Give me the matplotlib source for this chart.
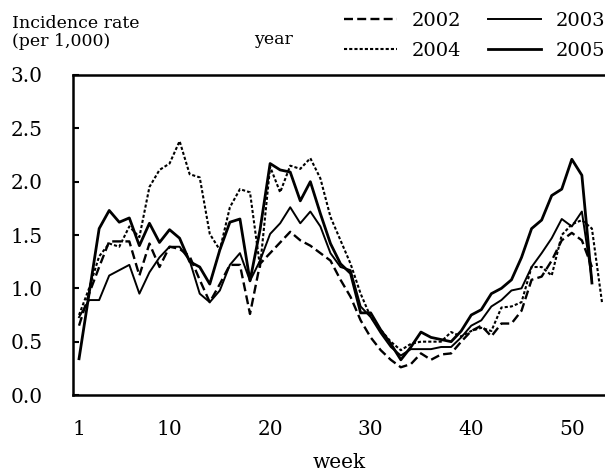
import numpy as np
import matplotlib
matplotlib.use('Agg')
import matplotlib.pyplot as plt

plt.rcParams['font.family'] = ['DejaVu Serif']

# weekly incidence rate (per 1,000)
y2002 = [0.65, 0.95, 1.20, 1.44, 1.44, 1.44, 1.12, 1.42, 1.20, 1.39,
         1.37, 1.30, 1.08, 0.87, 1.04, 1.22, 1.22, 0.76, 1.23, 1.33,
         1.43, 1.53, 1.45, 1.40, 1.33, 1.26, 1.08, 0.92, 0.70, 0.54,
         0.42, 0.33, 0.26, 0.29, 0.39, 0.33, 0.38, 0.39, 0.50, 0.60,
         0.65, 0.55, 0.67, 0.67, 0.79, 1.08, 1.11, 1.26, 1.45, 1.52,
         1.45, 1.20]
y2003 = [0.73, 0.89, 0.89, 1.12, 1.17, 1.22, 0.95, 1.15, 1.29, 1.39,
         1.39, 1.26, 0.95, 0.87, 0.98, 1.22, 1.33, 1.07, 1.26, 1.51,
         1.61, 1.76, 1.61, 1.72, 1.58, 1.33, 1.20, 1.17, 0.83, 0.73,
         0.58, 0.45, 0.37, 0.43, 0.43, 0.43, 0.45, 0.45, 0.54, 0.65,
         0.70, 0.83, 0.89, 0.98, 1.00, 1.20, 1.33, 1.47, 1.65, 1.58,
         1.72, 1.08]
y2004 = [0.75, 1.00, 1.30, 1.42, 1.39, 1.58, 1.48, 1.95, 2.11, 2.17,
         2.38, 2.07, 2.04, 1.51, 1.36, 1.76, 1.93, 1.90, 1.20, 2.14,
         1.90, 2.15, 2.12, 2.22, 2.03, 1.67, 1.45, 1.23, 0.95, 0.73,
         0.61, 0.50, 0.42, 0.48, 0.50, 0.50, 0.50, 0.59, 0.55, 0.60,
         0.63, 0.60, 0.82, 0.83, 0.87, 1.20, 1.20, 1.12, 1.50, 1.60,
         1.64, 1.56, 0.87]
y2005 = [0.34, 0.95, 1.56, 1.73, 1.62, 1.66, 1.40, 1.61, 1.43, 1.55,
         1.47, 1.25, 1.20, 1.04, 1.36, 1.62, 1.65, 1.07, 1.55, 2.17,
         2.11, 2.09, 1.82, 2.00, 1.70, 1.42, 1.23, 1.14, 0.77, 0.77,
         0.61, 0.48, 0.33, 0.45, 0.59, 0.54, 0.52, 0.50, 0.60, 0.75,
         0.80, 0.95, 1.00, 1.08, 1.29, 1.56, 1.64, 1.87, 1.93, 2.21,
         2.06, 1.05]

xticks = [1, 10, 20, 30, 40, 50]
yticks = [0.0, 0.5, 1.0, 1.5, 2.0, 2.5, 3.0]

fig = plt.figure(figsize=(6.05, 4.73), dpi=100)
ax = fig.add_axes([73/605, 1 - 395/473, 1 - 73/605, (395 - 75)/473])

w = lambda y: np.arange(1, len(y) + 1)
l02, = ax.plot(w(y2002), y2002, color='black', lw=1.7, dashes=(3.8, 1.8), label='2002')
l03, = ax.plot(w(y2003), y2003, color='black', lw=1.4, label='2003')
l04, = ax.plot(w(y2004), y2004, color='black', lw=1.5, dashes=(1.5, 1.0), label='2004')
l05, = ax.plot(w(y2005), y2005, color='black', lw=2.0, label='2005')

ax.set_xlim(0.4, 53.3)
ax.set_ylim(0, 3.0)
ax.set_xticks(xticks)
ax.set_yticks(yticks)
ax.set_yticklabels(['%.1f' % v for v in yticks])
ax.tick_params(axis='y', direction='in', length=4, width=1.5, pad=22, labelsize=14.5)
ax.tick_params(axis='x', length=0, pad=18, labelsize=14.5)
ax.spines['right'].set_visible(False)
for s in ['left', 'bottom', 'top']:
    ax.spines[s].set_linewidth(1.8)
ax.set_xlabel('week', fontsize=14.5, labelpad=10)

fig.text(12/605, 1 - 23/473, 'Incidence rate', fontsize=12.5, va='center', ha='left')
fig.text(12/605, 1 - 42/473, '(per 1,000)', fontsize=12.5, va='center', ha='left')
fig.text(274/605, 1 - 40/473, 'year', fontsize=12.5, va='center', ha='center')

fig.legend(handles=[l02, l04, l03, l05], ncol=2, frameon=False,
           loc='upper right', bbox_to_anchor=(1.0, 1 - 12/473),
           fontsize=14, handlelength=2.7, handletextpad=0.75,
           columnspacing=1.4, labelspacing=0.6, borderpad=0, borderaxespad=0)

fig.savefig('out.png', dpi=100)
